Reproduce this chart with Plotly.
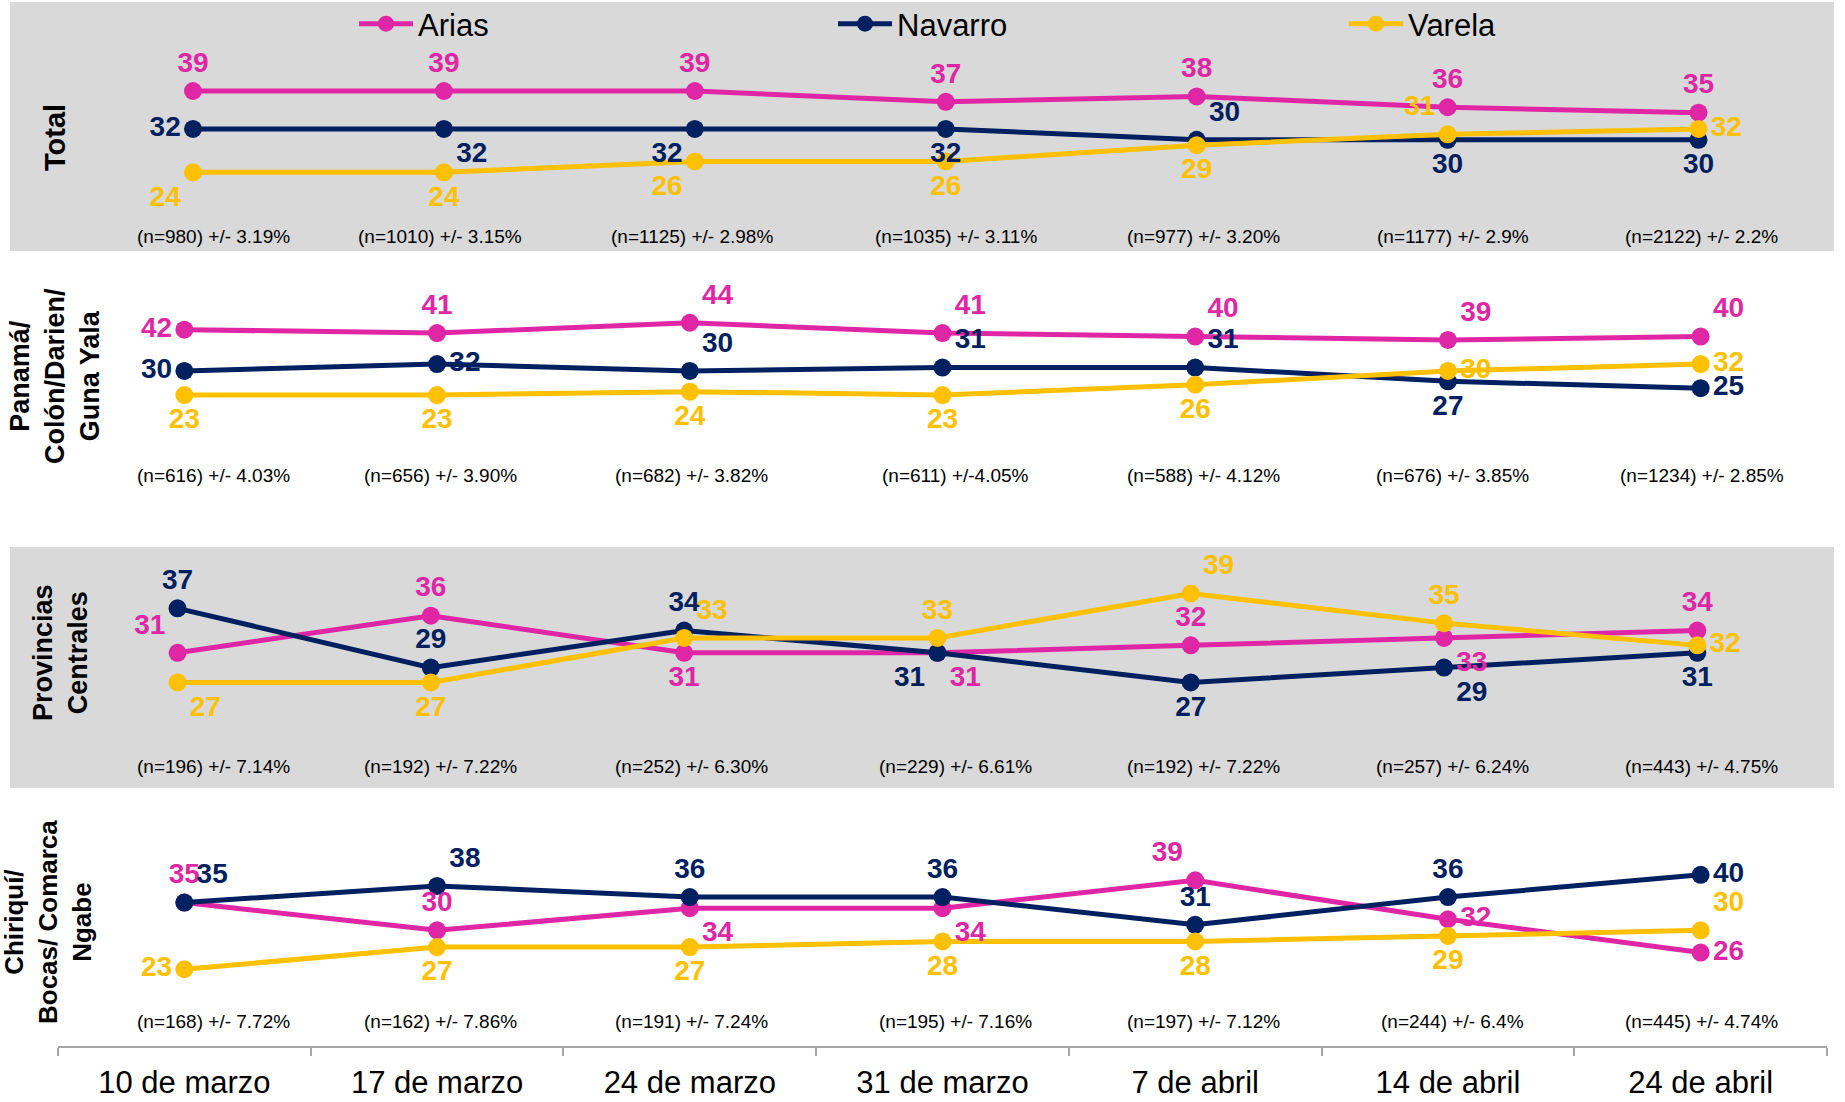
import plotly.graph_objects as go
from plotly.subplots import make_subplots

# datos
fechas = ["10 de marzo", "17 de marzo", "24 de marzo", "31 de marzo",
          "7 de abril", "14 de abril", "24 de abril"]
candidatos = ["Arias", "Navarro", "Varela"]

total_arias = [39, 39, 39, 37, 38, 36, 35]
total_navarro = [32, 32, 32, 32, 30, 30, 30]
total_varela = [24, 24, 26, 26, 29, 31, 32]
total_n = ["(n=980) +/- 3.19%", "(n=1010) +/- 3.15%", "(n=1125) +/- 2.98%",
           "(n=1035) +/- 3.11%", "(n=977) +/- 3.20%", "(n=1177) +/- 2.9%",
           "(n=2122) +/- 2.2%"]

panama_arias = [42, 41, 44, 41, 40, 39, 40]
panama_navarro = [30, 32, 30, 31, 31, 27, 25]
panama_varela = [23, 23, 24, 23, 26, 30, 32]
panama_n = ["(n=616) +/- 4.03%", "(n=656) +/- 3.90%", "(n=682) +/- 3.82%",
            "(n=611) +/-4.05%", "(n=588) +/- 4.12%", "(n=676) +/- 3.85%",
            "(n=1234) +/- 2.85%"]

centrales_arias = [31, 36, 31, 31, 32, 33, 34]
centrales_navarro = [37, 29, 34, 31, 27, 29, 31]
centrales_varela = [27, 27, 33, 33, 39, 35, 32]
centrales_n = ["(n=196) +/- 7.14%", "(n=192) +/- 7.22%", "(n=252) +/- 6.30%",
               "(n=229) +/- 6.61%", "(n=192) +/- 7.22%", "(n=257) +/- 6.24%",
               "(n=443) +/- 4.75%"]

chiriqui_arias = [35, 30, 34, 34, 39, 32, 26]
chiriqui_navarro = [35, 38, 36, 36, 31, 36, 40]
chiriqui_varela = [23, 27, 27, 28, 28, 29, 30]
chiriqui_n = ["(n=168) +/- 7.72%", "(n=162) +/- 7.86%", "(n=191) +/- 7.24%",
              "(n=195) +/- 7.16%", "(n=197) +/- 7.12%", "(n=244) +/- 6.4%",
              "(n=445) +/- 4.74%"]

regiones = ["Total", "Panamá/<br>Colón/Darien/<br>Guna Yala",
            "Provincias<br>Centrales", "Chiriquí/<br>Bocas/ Comarca<br>Ngabe"]

# estilos
colores = ["#DF27A5", "#002060", "#FFC000"]
FONT = "Liberation Sans, Arial, sans-serif"
GRIS = "#D9D9D9"

TC, BC, ML_, MR_ = "top center", "bottom center", "middle left", "middle right"
TL, TR, BL, BR = "top left", "top right", "bottom left", "bottom right"
pos = [
    [[TC] * 7,
     [ML_, BR, BL, BC, TR, BC, BC],
     [BL, BC, BL, BC, BC, TL, MR_]],
    [[ML_, TC, TR, TR, TR, TR, TR],
     [ML_, MR_, TR, TR, TR, BC, MR_],
     [BC, BC, BC, BC, BC, MR_, MR_]],
    [[TL, TC, BC, BR, TC, BR, TC],
     [TC, TC, TC, BL, BC, BR, BC],
     [BR, BC, TR, TC, TR, TC, MR_]],
    [[TC, TC, BR, BR, TL, MR_, MR_],
     [TR, TR, TC, TC, TC, TC, MR_],
     [ML_, BC, BC, BC, BC, BC, TR]],
]

W, H = 1845, 1102
ML, MR, MT, MB = 58, 18, 2, 56
PW = W - ML - MR
PH = H - MT - MB


def px_x(px):
    return (px - ML) / PW


def px_y(py):
    return (H - MB - py) / PH


bandas = [2, 251, 547, 788, 1046]
y_rangos = [[9.48, 55.42], [-21.12, 64.84], [12.76, 45.27], [9.19, 55.62]]
x_rangos = [[-0.538, 6.512], [-0.5, 6.5], [-0.472, 6.512], [-0.5, 6.5]]
nota_y = [236, 475, 766, 1021]
nota_shift = [29, 3, 2, 13, 8, 5, 1]
titulo_xy = [(55, 138), (55, 376), (60, 653), (48, 922)]

paneles = [
    [total_arias, total_navarro, total_varela],
    [panama_arias, panama_navarro, panama_varela],
    [centrales_arias, centrales_navarro, centrales_varela],
    [chiriqui_arias, chiriqui_navarro, chiriqui_varela],
]
notas = [total_n, panama_n, centrales_n, chiriqui_n]

fig = make_subplots(rows=4, cols=1, vertical_spacing=0)

# lineas y marcadores
for r, series in enumerate(paneles):
    for k, vals in enumerate(series):
        fig.add_trace(
            go.Scatter(x=fechas, y=vals, mode="lines+markers",
                       line=dict(color=colores[k], width=5),
                       marker=dict(color=colores[k], size=18),
                       cliponaxis=False, showlegend=False, name=candidatos[k]),
            row=r + 1, col=1)

# etiquetas de datos encima de todas las lineas
for r, series in enumerate(paneles):
    for k, vals in enumerate(series):
        fig.add_trace(
            go.Scatter(x=fechas, y=vals, mode="markers+text",
                       text=[str(v) for v in vals], textposition=pos[r][k],
                       textfont=dict(family=FONT, size=28, color=colores[k], weight="bold"),
                       marker=dict(color=colores[k], size=18, opacity=0),
                       hoverinfo="skip", cliponaxis=False, showlegend=False),
            row=r + 1, col=1)

# leyenda (tres leyendas para separar las entradas)
leg_x = [354, 833, 1344]
for k, c in enumerate(candidatos):
    lg = "legend" if k == 0 else "legend%d" % (k + 1)
    fig.add_trace(go.Scatter(x=[None], y=[None], mode="lines+markers", name=c,
                             line=dict(color=colores[k], width=5),
                             marker=dict(color=colores[k], size=16),
                             legend=lg, showlegend=True), row=1, col=1)
    fig.update_layout({lg: dict(x=px_x(leg_x[k]), xanchor="left", y=px_y(24), yanchor="middle",
                                orientation="h", itemwidth=54, bgcolor="rgba(0,0,0,0)",
                                borderwidth=0, font=dict(family=FONT, size=31, color="black"))})

for r in range(4):
    sfx = "" if r == 0 else str(r + 1)
    fig.layout["yaxis" + sfx].update(domain=[px_y(bandas[r + 1]), px_y(bandas[r])],
                                     range=y_rangos[r], visible=False, fixedrange=True)
    fig.layout["xaxis" + sfx].update(range=x_rangos[r], categoryorder="array",
                                     categoryarray=fechas, showgrid=False, zeroline=False)
    if r < 3:
        fig.layout["xaxis" + sfx].update(visible=False)
    if r % 2 == 0:
        fig.add_shape(type="rect", xref="paper", yref="y%s domain" % sfx,
                      x0=px_x(10), x1=px_x(1834), y0=0, y1=1,
                      fillcolor=GRIS, line_width=0, layer="below")
    for j, t in enumerate(notas[r]):
        fig.add_annotation(x=fechas[j], xref="x4", y=px_y(nota_y[r]), yref="paper",
                           xanchor="center", yanchor="middle",
                           text=t, showarrow=False, xshift=nota_shift[j],
                           font=dict(family=FONT, size=19, color="black"))
    cx, cy = titulo_xy[r]
    fig.add_annotation(x=px_x(cx), y=px_y(cy), xref="paper", yref="paper",
                       xanchor="center", yanchor="middle",
                       text=regiones[r], showarrow=False, textangle=-90, align="center",
                       font=dict(family=FONT, size=[29, 27, 27, 26][r], color="black",
                                 weight="bold"))

fig.update_xaxes(row=4, col=1, showline=True, linecolor="#A6A6A6", linewidth=2,
                 ticks="outside", tickson="boundaries", ticklen=8, tickcolor="#A6A6A6",
                 tickwidth=2, ticklabelstandoff=8,
                 tickfont=dict(family=FONT, size=31, color="black"))

fig.update_layout(width=W, height=H,
                  margin=dict(l=ML, r=MR, t=MT, b=MB, autoexpand=False),
                  paper_bgcolor="white", plot_bgcolor="white",
                  font=dict(family=FONT))

fig.write_html("out.html", config={"displayModeBar": False},
               post_script="document.body.style.margin='0px';")
